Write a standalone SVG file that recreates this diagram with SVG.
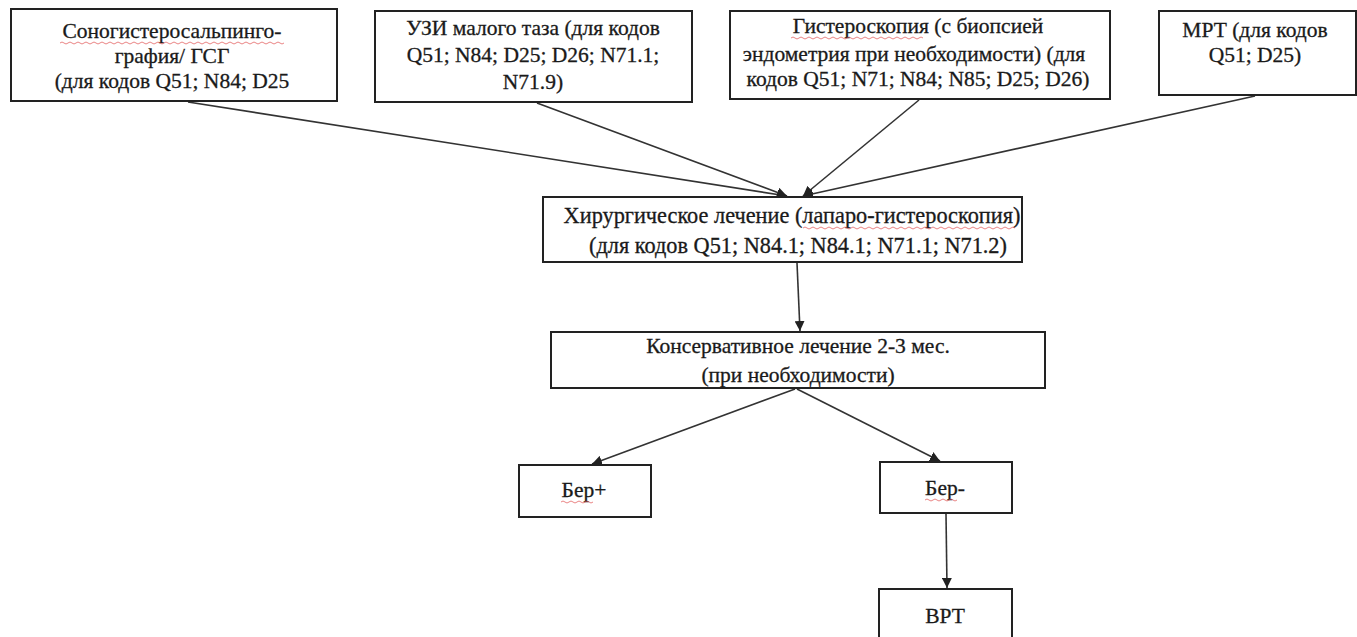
<svg xmlns="http://www.w3.org/2000/svg" width="1357" height="637" viewBox="0 0 1357 637">
<defs>
<style>
.box{fill:#fff;stroke:#222;stroke-width:2}
.t{font-size:21.5px;fill:#1a1a1a;stroke:#1a1a1a;stroke-width:0.3;text-anchor:middle}
.c{stroke:#333;stroke-width:1.6;fill:none;marker-end:url(#ah)}
.sp{stroke:#e05050;stroke-width:1;fill:none;opacity:0.7}
</style>
<marker id="ah" markerUnits="userSpaceOnUse" markerWidth="12" markerHeight="10" refX="10" refY="5" orient="auto">
<path d="M0,0 L10,5 L0,10 z" fill="#222"/>
</marker>
</defs>
<rect width="1357" height="637" fill="#fff"/>
<g id="connectors">
<line class="c" x1="188" y1="102" x2="787" y2="196"/>
<line class="c" x1="537" y1="103" x2="787" y2="196"/>
<line class="c" x1="919" y1="100" x2="803" y2="196"/>
<line class="c" x1="1255" y1="96" x2="803" y2="196"/>
<line class="c" x1="797" y1="263" x2="800" y2="331"/>
<line class="c" x1="795" y1="389" x2="592" y2="464"/>
<line class="c" x1="797" y1="389" x2="940" y2="461"/>
<line class="c" x1="946" y1="514" x2="947" y2="588"/>
</g>
<g font-family="'Liberation Serif', 'DejaVu Serif', serif">
<g id="n1">
<rect class="box" x="11" y="9" width="326" height="92"/>
<text class="t" x="172" y="38">Соногистеросальпинго-</text>
<text class="t" x="172" y="63">графия/ ГСГ</text>
<text class="t" x="172" y="88">(для кодов Q51; N84; D25</text>
<path class="sp" d="M60,43 q2,-2 4,0 t4,0 t4,0 t4,0 t4,0 t4,0 t4,0 t4,0 t4,0 t4,0 t4,0 t4,0 t4,0 t4,0 t4,0 t4,0 t4,0 t4,0 t4,0 t4,0 t4,0 t4,0 t4,0 t4,0 t4,0 t4,0 t4,0 t4,0 t4,0 t4,0 t4,0 t4,0 t4,0 t4,0 t4,0 t4,0 t4,0 t4,0 t4,0 t4,0 t4,0 t4,0 t4,0 t4,0 t4,0 t4,0 t4,0 t4,0 t4,0 t4,0 t4,0 t4,0 t4,0 t4,0 t4,0 t4,0"/>
</g>
<g id="n2">
<rect class="box" x="375" y="11" width="317" height="91"/>
<text class="t" x="533" y="35">УЗИ малого таза (для кодов</text>
<text class="t" x="533" y="62">Q51; N84; D25; D26; N71.1;</text>
<text class="t" x="533" y="89">N71.9)</text>
</g>
<g id="n3">
<rect class="box" x="730" y="11" width="380" height="88"/>
<text class="t" x="918" y="33">Гистероскопия (с биопсией</text>
<text class="t" x="914" y="61">эндометрия при необходимости) (для</text>
<text class="t" x="918" y="86">кодов Q51; N71; N84; N85; D25; D26)</text>
<path class="sp" d="M791,38 q2,-2 4,0 t4,0 t4,0 t4,0 t4,0 t4,0 t4,0 t4,0 t4,0 t4,0 t4,0 t4,0 t4,0 t4,0 t4,0 t4,0 t4,0 t4,0 t4,0 t4,0 t4,0 t4,0 t4,0 t4,0 t4,0 t4,0 t4,0 t4,0 t4,0 t4,0 t4,0 t4,0 t4,0"/>
</g>
<g id="n4">
<rect class="box" x="1159" y="11" width="197" height="84"/>
<text class="t" x="1255" y="37">МРТ (для кодов</text>
<text class="t" x="1255" y="62">Q51; D25)</text>
</g>
<g id="n5">
<rect class="box" x="543" y="197" width="479" height="65"/>
<text class="t" x="792" y="223" style="font-size:22.3px">Хирургическое лечение (лапаро-гистероскопия)</text>
<text class="t" x="798" y="253" style="font-size:22.3px">(для кодов Q51; N84.1; N84.1; N71.1; N71.2)</text>
<path class="sp" d="M803,228 q2,-2 4,0 t4,0 t4,0 t4,0 t4,0 t4,0 t4,0 t4,0 t4,0 t4,0 t4,0 t4,0 t4,0 t4,0 t4,0 t4,0 t4,0 t4,0 t4,0 t4,0 t4,0 t4,0 t4,0 t4,0 t4,0 t4,0 t4,0 t4,0 t4,0 t4,0 t4,0 t4,0 t4,0 t4,0 t4,0 t4,0 t4,0 t4,0 t4,0 t4,0 t4,0 t4,0 t4,0 t4,0 t4,0 t4,0 t4,0 t4,0 t4,0 t4,0 t4,0 t4,0 t4,0"/>
</g>
<g id="n6">
<rect class="box" x="551" y="332" width="494" height="56"/>
<text class="t" x="798" y="353">Консервативное лечение 2-3 мес.</text>
<text class="t" x="798" y="382">(при необходимости)</text>
</g>
<g id="n7">
<rect class="box" x="519" y="465" width="132" height="52"/>
<text class="t" x="584" y="497">Бер+</text>
<path class="sp" d="M561,502 q2,-2 4,0 t4,0 t4,0 t4,0 t4,0 t4,0 t4,0 t4,0"/>
</g>
<g id="n8">
<rect class="box" x="880" y="462" width="132" height="51"/>
<text class="t" x="945" y="495">Бер-</text>
<path class="sp" d="M925,500 q2,-2 4,0 t4,0 t4,0 t4,0 t4,0 t4,0 t4,0 t4,0"/>
</g>
<g id="n9">
<rect class="box" x="879" y="589" width="133" height="60"/>
<text class="t" x="945" y="623">ВРТ</text>
</g>
</g>
</svg>
